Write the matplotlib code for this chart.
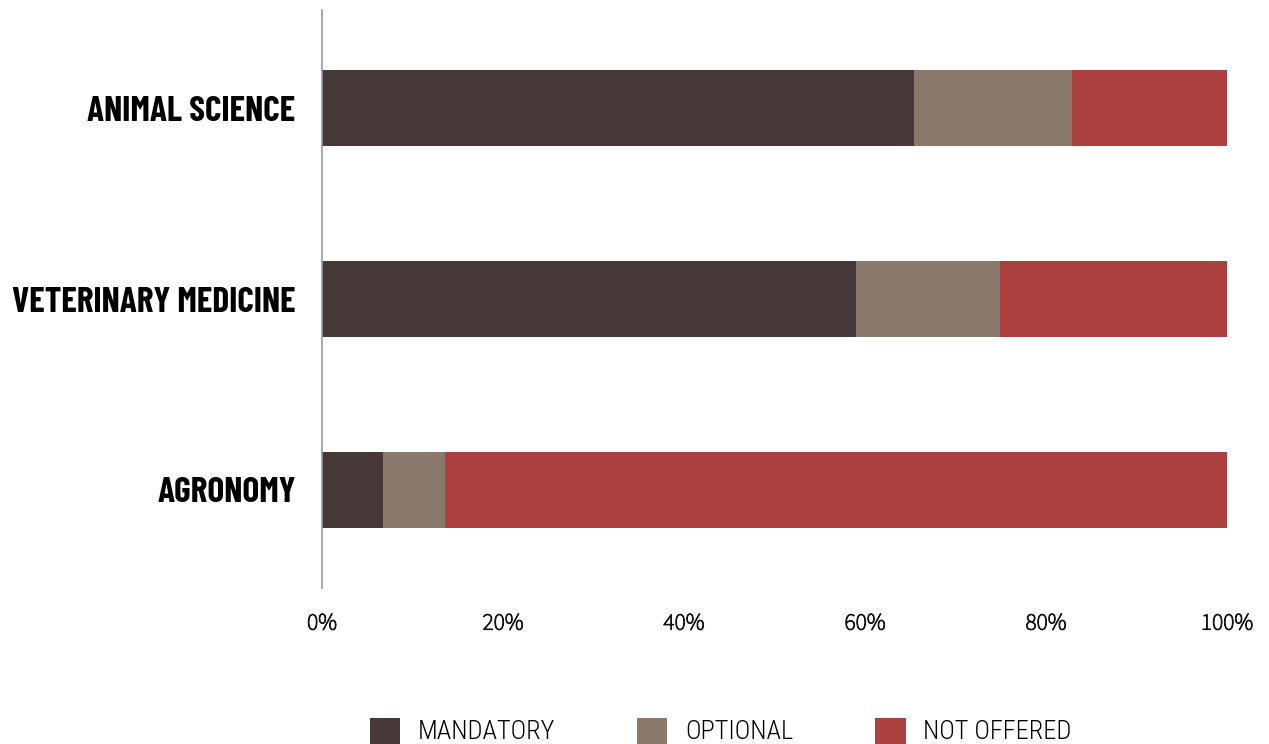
import matplotlib.pyplot as plt
import matplotlib.patheffects as pe
import numpy as np

categories = ['ANIMAL SCIENCE', 'VETERINARY MEDICINE', 'AGRONOMY']
mandatory = [65.4, 59.0, 6.7]
optional = [17.5, 15.9, 6.9]
not_offered = [17.1, 25.1, 86.4]
series_names = ['MANDATORY', 'OPTIONAL', 'NOT OFFERED']
colors = ['#463739', '#8a7a6d', '#ad4142']
xticks = [0, 20, 40, 60, 80, 100]

fig = plt.figure(figsize=(12.69, 7.44), dpi=100)
ax = fig.add_axes([322/1269, (744-588)/744, (1227-322)/1269, (588-10)/744])

y = np.arange(len(categories))
left = np.zeros(len(categories))
handles = []
for vals, name, c in zip([mandatory, optional, not_offered], series_names, colors):
    h = ax.barh(y, vals, left=left, height=0.40, color=c, label=name)
    handles.append(h)
    left = left + np.array(vals)

ax.set_ylim(len(categories) - 1 + 0.516, -0.516)
ax.set_xlim(0, 100)
ax.set_yticks(y)
ax.set_yticklabels(categories, fontfamily=['Barlow Condensed', 'DejaVu Sans'],
                   fontweight=700, fontsize=25.5, color='black')
ax.set_xticks(xticks)
ax.set_xticklabels([f'{t}%' for t in xticks], fontfamily=['Source Sans 3', 'DejaVu Sans'],
                   fontsize=17, color='#111111')
for lbl in ax.get_xticklabels():
    lbl.set_path_effects([pe.withStroke(linewidth=0.7, foreground='#111111')])
ax.tick_params(axis='both', length=0)
ax.tick_params(axis='x', pad=17)
ax.tick_params(axis='y', pad=19)
for s in ['top', 'right', 'bottom']:
    ax.spines[s].set_visible(False)
ax.spines['left'].set_color('#999999')
ax.spines['left'].set_linewidth(1.2)

fig.legend(handles=handles, labels=series_names, loc='center', ncol=3,
           bbox_to_anchor=(721/1269, 1 - 731/744), frameon=False,
           prop={'family': ['Roboto Condensed', 'DejaVu Sans'], 'weight': 300, 'size': 19},
           handlelength=1.14, handleheight=1.14, handletextpad=0.68,
           columnspacing=3.1)

fig.savefig('out.png', dpi=100)
